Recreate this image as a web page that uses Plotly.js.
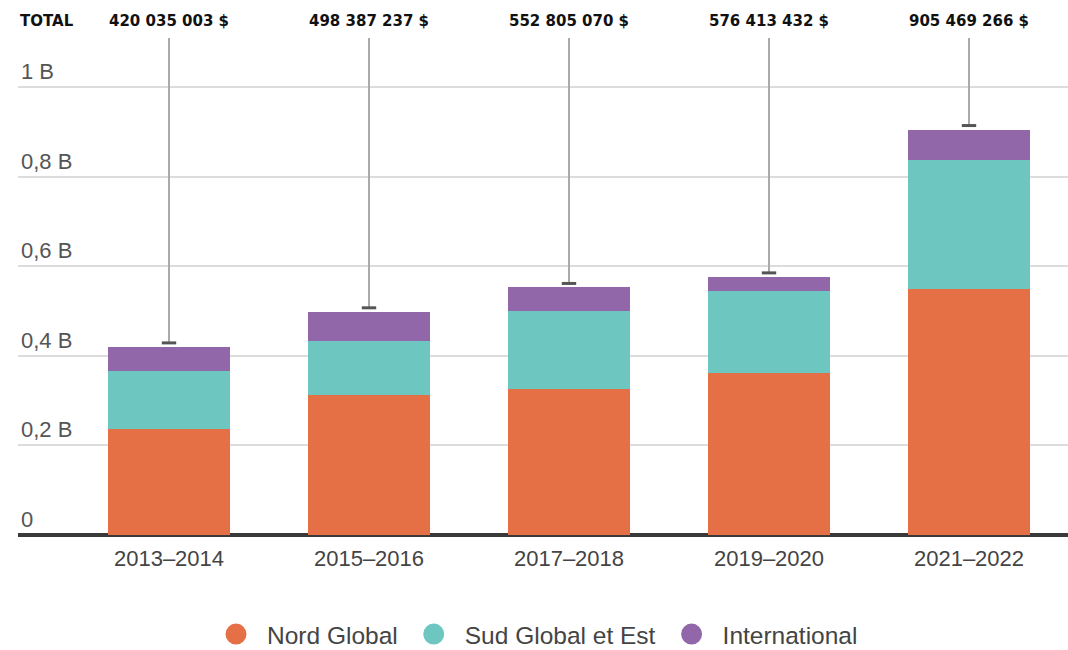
<!DOCTYPE html>
<html>
<head>
<meta charset="utf-8">
<script src="https://cdn.plot.ly/plotly-3.0.1.min.js"></script>
<style>
  body { margin: 0; background: #fff; }
  #chart { width: 1068px; height: 650px; }
</style>
</head>
<body>
<div id="chart"></div>
<script>
var periods = ['2013–2014', '2015–2016', '2017–2018', '2019–2020', '2021–2022'];
var nordGlobal = [236e6, 312e6, 326e6, 362e6, 550e6];
var sudGlobal = [130e6, 121e6, 174e6, 183e6, 287e6];
var international = [54e6, 65e6, 53e6, 31e6, 68e6];
var totals = [420035003, 498387237, 552805070, 576413432, 905469266];
var tickVals = [0, 0.2e9, 0.4e9, 0.6e9, 0.8e9, 1e9];
var tickText = ['0', '0,2 B', '0,4 B', '0,6 B', '0,8 B', '1 B'];

var colors = ['#e67046', '#6dc6bf', '#9267aa'];
var names = ['Nord Global', 'Sud Global et Est', 'International'];
var series = [nordGlobal, sudGlobal, international];

var yTop = 1.11e9;
var boldFont = {family: '"DejaVu Sans", sans-serif', size: 15, color: '#111', weight: 'bold'};

function fmt(n) {
    return String(n).replace(/\B(?=(\d{3})+(?!\d))/g, ' ') + ' $';
}

var data = [];
series.forEach(function(s, i) {
    data.push({
        x: periods,
        y: s,
        type: 'bar',
        name: names[i],
        marker: {color: colors[i]},
        showlegend: false,
        hoverinfo: 'skip'
    });
});
// legend entries with round markers
series.forEach(function(s, i) {
    data.push({
        x: [null],
        y: [null],
        type: 'scatter',
        mode: 'markers',
        name: names[i],
        marker: {color: colors[i], size: 30, symbol: 'circle', line: {color: colors[i], width: 5}},
        hoverinfo: 'skip'
    });
});

var shapes = [];
var annotations = [{
    text: 'TOTAL',
    xref: 'paper', yref: 'paper',
    x: 0, y: 1, xanchor: 'left', yanchor: 'bottom', yshift: 6,
    showarrow: false,
    font: boldFont
}];
totals.forEach(function(t, i) {
    var capY = t + 9e6;
    shapes.push({
        type: 'line', xref: 'x', yref: 'y',
        x0: i, x1: i, y0: capY, y1: yTop,
        line: {color: '#aaaaaa', width: 2}
    });
    shapes.push({
        type: 'line', xref: 'x', yref: 'y',
        x0: i - 0.036, x1: i + 0.036, y0: capY, y1: capY,
        line: {color: '#555555', width: 3}
    });
    annotations.push({
        text: fmt(t),
        xref: 'x', yref: 'paper',
        x: i, y: 1, xanchor: 'center', yanchor: 'bottom', yshift: 6,
        showarrow: false,
        font: boldFont
    });
});

var layout = {
    width: 1068,
    height: 650,
    margin: {l: 18, r: 0, t: 38, b: 115},
    barmode: 'stack',
    bargap: 0.39,
    paper_bgcolor: '#fff',
    plot_bgcolor: '#fff',
    font: {family: '"Liberation Sans", Arial, sans-serif', color: '#444'},
    xaxis: {
        type: 'category',
        range: [-0.755, 4.495],
        showgrid: false,
        ticks: '',
        ticklabelstandoff: 8,
        tickfont: {size: 22, color: '#444'},
        fixedrange: true
    },
    yaxis: {
        range: [0, yTop],
        tickvals: tickVals,
        ticktext: tickText,
        ticks: '',
        ticklabelposition: 'inside',
        ticklabelshift: -16,
        ticklabelstandoff: 0,
        tickfont: {size: 22, color: '#555'},
        gridcolor: '#dcdcdc',
        gridwidth: 2,
        zeroline: true,
        zerolinecolor: '#3a3a3a',
        zerolinewidth: 4,
        fixedrange: true
    },
    legend: {
        orientation: 'h',
        traceorder: 'normal',
        xref: 'container', yref: 'container',
        x: 0.5, xanchor: 'center',
        y: 0.059, yanchor: 'top',
        font: {size: 24.5, color: '#444'},
        itemsizing: 'trace',
        itemwidth: 52
    },
    shapes: shapes,
    annotations: annotations
};

Plotly.newPlot('chart', data, layout, {displayModeBar: false, staticPlot: true});
</script>
</body>
</html>
